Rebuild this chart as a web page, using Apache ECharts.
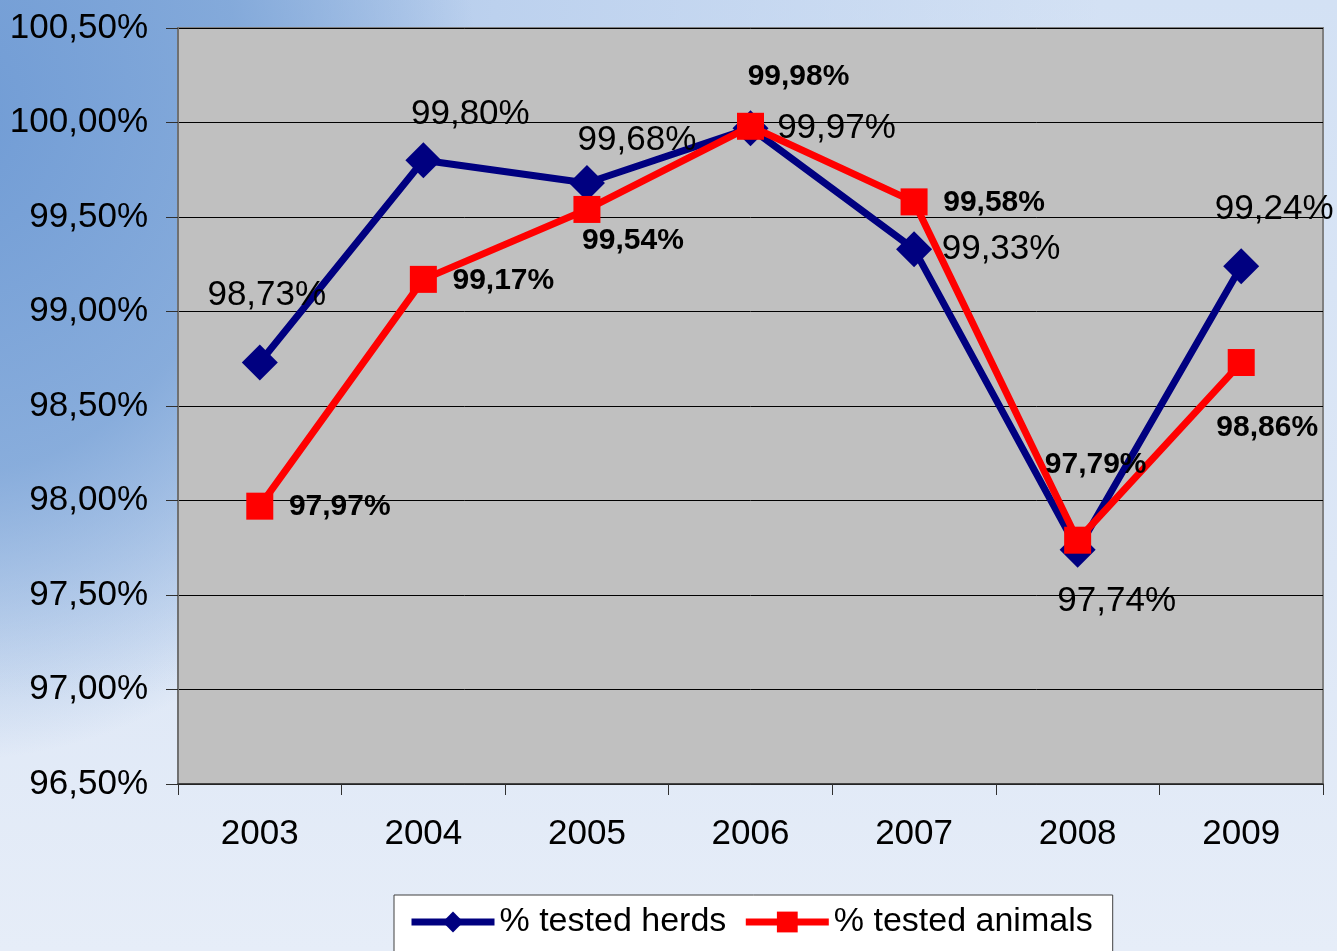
<!DOCTYPE html>
<html>
<head>
<meta charset="utf-8">
<title>% tested herds / animals</title>
<script src="https://cdn.jsdelivr.net/npm/echarts@6/dist/echarts.min.js"></script>
<style>
    html, body { margin: 0; padding: 0; }
    body {
        width: 1337px;
        height: 951px;
        overflow: hidden;
        background:
            radial-gradient(ellipse 520px 640px at -40px 120px, rgba(110,154,212,0.95) 0%, rgba(125,165,216,0.85) 55%, rgba(160,190,228,0) 100%),
            radial-gradient(ellipse 1100px 700px at 0px 0px, #9dbbe3 0%, #bcd1ee 45%, rgba(220,231,246,0) 100%),
            linear-gradient(180deg, #d3e1f4 0%, #dde7f6 60%, #e6edf8 100%);
    }
    #chart { width: 1337px; height: 951px; }
</style>
</head>
<body>
<div id="chart"></div>
<script>
// data
var years = ['2003', '2004', '2005', '2006', '2007', '2008', '2009'];
var herds = [98.73, 99.80, 99.68, 99.97, 99.33, 97.74, 99.24];
var animals = [97.97, 99.17, 99.54, 99.98, 99.58, 97.79, 98.73];
var herdsLabels = ['98,73%', '99,80%', '99,68%', '99,97%', '99,33%', '97,74%', '99,24%'];
var animalsLabels = ['97,97%', '99,17%', '99,54%', '99,98%', '99,58%', '97,79%', '98,86%'];

// where each data label sits relative to its point (px)
var herdsOffsets = [[7, -67], [47, -46], [50, -43], [86, 0], [87, 0], [39, 52], [33, -57]];
var animalsOffsets = [[80, 1], [80, 1], [46, 31], [48, -50], [80, 1], [18, -75], [26, 65]];

var font = '"Liberation Sans", Arial, sans-serif';

function withLabels(values, offsets) {
    return values.map(function (v, i) {
        return { value: v, label: { offset: offsets[i] } };
    });
}

var myChart = echarts.init(document.getElementById('chart'), null, { renderer: 'canvas' });

var option = {
    backgroundColor: 'transparent',
    animation: false,
    grid: {
        left: 178,
        right: 14,
        top: 28,
        bottom: 167,
        show: true,
        backgroundColor: '#c0c0c0',
        borderColor: '#808080',
        borderWidth: 2
    },
    legend: {
        left: 394,
        top: 895,
        itemWidth: 83,
        itemHeight: 26,
        itemGap: 16,
        padding: [10, 20, 40, 14],
        backgroundColor: '#ffffff',
        borderColor: '#404040',
        borderWidth: 1,
        lineStyle: { width: 7 },
        textStyle: {
            fontFamily: font,
            fontSize: 34,
            color: '#000'
        },
        data: ['% tested herds', '% tested animals']
    },
    xAxis: {
        type: 'category',
        data: years,
        boundaryGap: true,
        axisLine: { lineStyle: { color: '#303030', width: 1.5 } },
        axisTick: { show: true, length: 11, lineStyle: { color: '#303030' } },
        axisLabel: {
            margin: 33,
            fontFamily: font,
            fontSize: 35,
            color: '#000'
        },
        splitLine: { show: false }
    },
    yAxis: {
        type: 'value',
        min: 96.5,
        max: 100.5,
        interval: 0.5,
        axisLine: { show: true, lineStyle: { color: '#707070', width: 2 } },
        axisTick: { show: true, length: 12, lineStyle: { color: '#303030' } },
        axisLabel: {
            margin: 30,
            fontFamily: font,
            fontSize: 35,
            color: '#000',
            formatter: function (v) {
                return v.toFixed(2).replace('.', ',') + '%';
            }
        },
        splitLine: { show: true, lineStyle: { color: '#000', width: 1 } }
    },
    series: [
        {
            name: '% tested herds',
            type: 'line',
            data: withLabels(herds, herdsOffsets),
            symbol: 'diamond',
            symbolSize: 36,
            lineStyle: { color: '#000080', width: 7 },
            itemStyle: { color: '#000080' },
            label: {
                show: true,
                position: 'inside',
                fontFamily: font,
                fontSize: 35,
                color: '#000',
                formatter: function (p) { return herdsLabels[p.dataIndex]; }
            },
            z: 2
        },
        {
            name: '% tested animals',
            type: 'line',
            data: withLabels(animals, animalsOffsets),
            symbol: 'rect',
            symbolSize: 27,
            lineStyle: { color: '#ff0000', width: 7 },
            itemStyle: { color: '#ff0000' },
            label: {
                show: true,
                position: 'inside',
                fontFamily: font,
                fontSize: 30,
                fontWeight: 'bold',
                color: '#000',
                formatter: function (p) { return animalsLabels[p.dataIndex]; }
            },
            z: 3
        }
    ]
};

myChart.setOption(option);
</script>
</body>
</html>
